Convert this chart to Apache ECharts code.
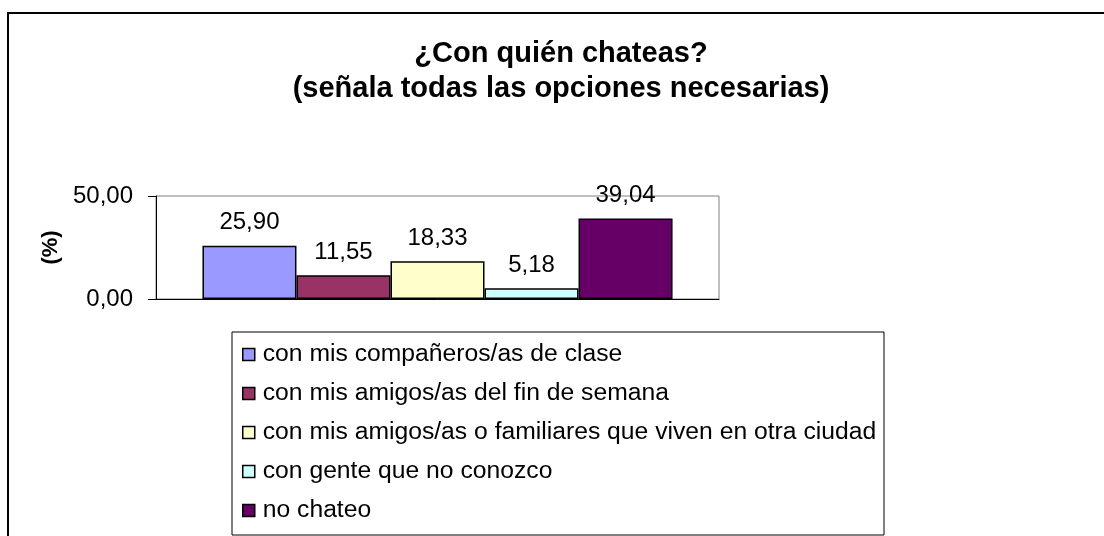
<!DOCTYPE html>
<html>
<head>
<meta charset="utf-8">
<script src="https://cdn.jsdelivr.net/npm/echarts@6/dist/echarts.min.js"></script>
<style>
  html, body { margin: 0; padding: 0; background: #fff; }
  #chart { width: 1104px; height: 536px; }
</style>
</head>
<body>
<div id="chart"></div>
<script>
// datos
var categories = ["¿Con quién chateas?"];
var seriesNames = [
  "con mis compañeros/as de clase",
  "con mis amigos/as del fin de semana",
  "con mis amigos/as o familiares que viven en otra ciudad",
  "con gente que no conozco",
  "no chateo"
];
var seriesValues = [25.90, 11.55, 18.33, 5.18, 39.04];
var seriesColors = ["#9999FF", "#993366", "#FFFFCC", "#CCFFFF", "#660066"];
var yTicks = [0, 50];

var FONT = "Liberation Sans, Arial, sans-serif";

function coma(v) {
  return Number(v).toFixed(2).replace(".", ",");
}

var chart = echarts.init(document.getElementById("chart"));

var series = seriesNames.map(function (name, i) {
  return {
    name: name,
    type: "bar",
    barGap: 0,
    barCategoryGap: "16.5%",
    data: [seriesValues[i]],
    itemStyle: {
      color: seriesColors[i],
      borderColor: "#000",
      borderWidth: 1.5
    },
    label: {
      show: true,
      position: "top",
      distance: 11,
      color: "#000",
      fontFamily: FONT,
      fontSize: 24,
      formatter: function (p) { return coma(p.value); }
    }
  };
});

chart.setOption({
  animation: false,
  backgroundColor: "#fff",
  title: {
    text: "¿Con quién chateas?\n(señala todas las opciones necesarias)",
    left: 556,
    top: 31,
    textAlign: "center",
    textStyle: {
      fontFamily: FONT,
      fontSize: 29,
      fontWeight: "bold",
      color: "#000",
      lineHeight: 35
    }
  },
  graphic: [
    {
      type: "rect",
      shape: { x: 8, y: 13, width: 1200, height: 600 },
      style: { fill: "none", stroke: "#000", lineWidth: 2 },
      z: 0
    },
    {
      type: "rect",
      shape: { x: 232, y: 332, width: 652, height: 203 },
      style: { fill: "#fff", stroke: "#000", lineWidth: 1 },
      z: 0
    }
  ],
  legend: {
    orient: "vertical",
    left: 237,
    top: 337,
    itemWidth: 12,
    itemHeight: 12,
    itemGap: 14,
    icon: "rect",
    itemStyle: { borderColor: "#000", borderWidth: 1.5 },
    textStyle: {
      fontFamily: FONT,
      fontSize: 24.7,
      color: "#000",
      lineHeight: 24,
      padding: [0, 0, 0, 3]
    },
    data: seriesNames
  },
  grid: {
    left: 156,
    right: 385,
    top: 196,
    bottom: 237,
    show: true,
    borderColor: "#808080",
    borderWidth: 1,
    backgroundColor: "#fff"
  },
  xAxis: {
    type: "category",
    data: categories,
    axisLine: { show: true, lineStyle: { color: "#000", width: 1 } },
    axisTick: { show: false },
    axisLabel: { show: false },
    splitLine: { show: false }
  },
  yAxis: {
    type: "value",
    min: yTicks[0],
    max: yTicks[1],
    interval: 50,
    name: "(%)",
    nameLocation: "middle",
    nameGap: 94,
    nameRotate: 90,
    nameTextStyle: {
      fontFamily: FONT,
      fontSize: 22,
      fontWeight: "bold",
      color: "#000"
    },
    axisLine: { show: true, lineStyle: { color: "#000", width: 1 } },
    axisTick: { show: true, inside: false, length: 8, lineStyle: { color: "#000" } },
    axisLabel: {
      fontFamily: FONT,
      fontSize: 24,
      color: "#000",
      margin: 23,
      formatter: function (v) { return coma(v); }
    },
    splitLine: { show: false }
  },
  series: series
});
</script>
</body>
</html>
